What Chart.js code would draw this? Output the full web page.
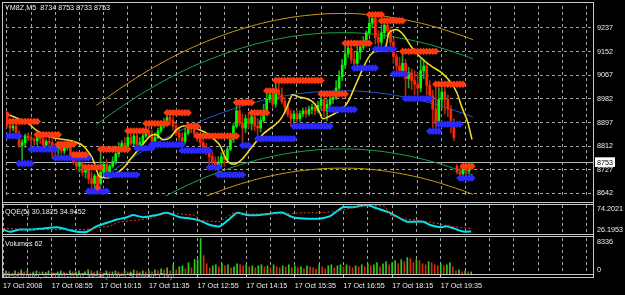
<!DOCTYPE html>
<html>
<head>
<meta charset="utf-8">
<script src="https://cdn.jsdelivr.net/npm/chart.js@4.4.0/dist/chart.umd.min.js"></script>
<style>
  html, body { margin: 0; padding: 0; background: #000; }
  #wrap { position: relative; width: 625px; height: 295px; overflow: hidden; background: #000; }
  #wrap canvas { position: absolute; left: 0; }
  .ln { position: absolute; background: #c8c8c8; }
  .lbl { position: absolute; font: 7.2px 'Liberation Sans', sans-serif; color: #f0f0f0; white-space: nowrap; line-height: 9px; }
</style>
</head>
<body>
<div id="wrap">
  <canvas id="priceChart" width="625" height="202" style="top:0"></canvas>
  <canvas id="qqeChart" width="625" height="33" style="top:203px"></canvas>
  <canvas id="volChart" width="625" height="59" style="top:236px"></canvas>

  <div class="ln" style="left:2px;top:2px;width:591px;height:1px"></div>
  <div class="ln" style="left:2px;top:2px;width:1px;height:276px"></div>
  <div class="ln" style="left:593px;top:2px;width:1px;height:276px"></div>
  <div class="ln" style="left:2px;top:202px;width:591px;height:1px"></div>
  <div class="ln" style="left:2px;top:204px;width:591px;height:1px"></div>
  <div class="ln" style="left:2px;top:234px;width:591px;height:1px"></div>
  <div class="ln" style="left:2px;top:236px;width:591px;height:1px"></div>
  <div class="ln" style="left:2px;top:274px;width:591px;height:1px"></div>
  <div class="ln" style="left:2px;top:277px;width:591px;height:1px"></div>

  <div class="lbl" style="left:5px;top:3px">YM8Z,M5&nbsp;&nbsp;8734 8753 8733 8753</div>
  <div class="lbl" style="left:5px;top:207px">QQE(5) 30.1825 34.9452</div>
  <div class="lbl" style="left:5px;top:239px">Volumes 62</div>
  <div class="lbl" style="left:3px;top:271px;color:#b0b0b0">MetaTrader, © 2001-2007 MetaQuotes Software Corp.</div>
</div>

<script>
// ---- candles (M5, one entry per bar) ----
const opens = [8921,8887,8877,8884,8860,8815,8825,8849,8843,8836,8832,8853,8839,8815,8829,8825,8808,8801,8815,8795,
  8808,8822,8781,8753,8740,8750,8719,8726,8695,8678,8705,8678,8719,8747,8712,8740,8757,8784,8808,8822,
  8801,8843,8822,8849,8815,8825,8849,8867,8853,8829,8843,8867,8884,8897,8915,8904,8884,8860,8843,8829,
  8860,8884,8877,8856,8839,8825,8808,8798,8774,8757,8740,8753,8774,8764,8801,8836,8884,8939,8894,8877,
  8911,8894,8918,8884,8877,8904,8939,8980,8997,8963,9014,8997,8973,8952,8928,8911,8928,8911,8928,8939,
  8928,8945,8952,8939,8959,8980,8939,8963,8980,8987,9021,9062,9103,9144,9165,9124,9110,9151,9168,9192,
  9220,9254,9271,9203,9186,9220,9247,9227,9186,9134,9100,9083,9110,9055,9076,9048,9035,9021,9083,9100,
  9031,8993,8945,8894,8980,9007,8980,8945,8894,8740,8719,8712,8733,8722,8734];
const highs = [8928,8901,8894,8901,8867,8836,8856,8860,8853,8843,8853,8856,8846,8836,8843,8836,8819,8819,8819,8815,
  8825,8825,8781,8764,8760,8757,8736,8733,8719,8712,8712,8801,8757,8764,8747,8774,8801,8825,8832,8843,
  8867,8856,8860,8856,8843,8856,8894,8884,8870,8860,8877,8897,8911,8932,8928,8918,8894,8877,8860,8877,
  8894,8884,8880,8863,8849,8836,8822,8808,8791,8774,8774,8788,8791,8812,8853,8894,8969,8963,8928,8925,
  8932,8932,8925,8911,8918,8963,9011,9007,9004,9048,9041,9021,8987,8966,8942,8939,8942,8939,8949,8952,
  8956,8963,8966,8973,9000,8987,8980,8993,8997,9048,9083,9124,9186,9186,9172,9151,9172,9179,9206,9227,
  9285,9285,9275,9227,9247,9264,9264,9240,9199,9144,9131,9151,9124,9096,9090,9083,9076,9124,9124,9110,
  9048,9014,9035,9021,9021,9021,8997,8959,8911,8747,8733,8740,8740,8743,8753];
const lows = [8880,8849,8867,8853,8808,8750,8808,8832,8801,8815,8815,8822,8808,8808,8808,8767,8770,8774,8784,8784,
  8798,8774,8747,8729,8719,8705,8698,8678,8650,8654,8657,8671,8712,8698,8705,8733,8747,8774,8791,8791,
  8798,8815,8812,8805,8801,8812,8843,8843,8819,8822,8839,8860,8877,8891,8887,8870,8849,8832,8798,8822,
  8853,8860,8843,8829,8815,8798,8781,8736,8747,8726,8709,8733,8740,8757,8795,8825,8877,8884,8815,8860,
  8877,8870,8867,8839,8863,8897,8932,8969,8952,8952,8980,8963,8928,8918,8884,8884,8894,8901,8918,8915,
  8921,8928,8925,8932,8945,8918,8904,8942,8966,8980,9014,9048,9090,9131,9110,9093,9103,9124,9158,9179,
  9210,9240,9179,9162,9172,9199,9206,9168,9110,9072,9072,9072,8983,9021,9014,8997,8987,9007,9055,8997,
  8973,8867,8870,8891,8945,8928,8918,8860,8832,8712,8698,8705,8705,8712,8733];
const closes = [8887,8877,8884,8860,8815,8825,8849,8843,8836,8832,8853,8839,8815,8829,8825,8808,8801,8815,8795,8808,
  8822,8781,8753,8740,8750,8719,8726,8695,8678,8705,8671,8719,8747,8712,8740,8757,8784,8808,8822,8801,
  8843,8822,8849,8815,8825,8849,8867,8853,8829,8843,8867,8884,8897,8915,8904,8884,8860,8843,8829,8860,
  8884,8877,8856,8839,8825,8808,8798,8774,8757,8740,8753,8774,8764,8801,8836,8884,8939,8894,8877,8911,
  8894,8918,8884,8877,8904,8939,8980,8997,8963,9014,8997,8973,8952,8928,8911,8928,8911,8928,8939,8928,
  8945,8952,8939,8959,8980,8939,8963,8980,8987,9021,9062,9103,9144,9165,9124,9110,9151,9168,9192,9220,
  9254,9271,9203,9186,9220,9247,9227,9186,9134,9100,9083,9110,9055,9076,9048,9035,9021,9083,9100,9031,
  8993,8945,8894,8980,9007,8980,8945,8894,8843,8719,8712,8733,8722,8733,8753];
const volumes = [480,710,480,240,710,480,950,480,710,240,480,710,480,480,240,710,
  480,240,480,710,480,240,710,480,480,710,240,480,950,710,480,710,
  480,240,710,480,480,710,480,240,710,480,480,950,710,480,710,480,
  710,480,950,710,1190,950,1430,710,2140,950,1670,1900,1190,2620,1430,3330,
  3330,8336,4280,2380,1430,1900,2140,1670,2380,1900,2140,1430,1670,2380,2140,1900,
  2140,1670,1900,1430,1900,2140,1670,1900,1430,2140,1670,1430,1900,1670,2140,1430,
  1900,1430,1670,1190,1900,1670,1430,1190,2140,1670,1190,1900,2140,1430,1900,2140,
  1670,2140,1900,1430,1900,1670,2140,1670,2380,1900,2140,2620,1670,2380,2860,2140,
  2620,3090,2380,3330,2860,3810,3570,2620,3330,3090,2380,2140,2860,2620,2140,1900,
  2380,1900,2140,2620,1670,710,950,480,710,480,480];

// ---- moving average (bar, value) ----
const maBars = [0,7,10,15,21,25,28,29.5,30.5,33,35,38.5,41,46,47.5,49.5,51.5,54,56,58,60.5,64,66,68,70.5,72.5,74,76,78,81,
  84.5,90,92,94,94.5,96.5,100,102,103.5,104.5,106.5,111,113,115,117.5,119.5,121.5,125,126.5,128,129.5,131.5,134,137,140.5,144,147,149,150.5,152.5,154];
const maValues = [8928,8894,8867,8843,8832,8815,8774,8733,8705,8698,8705,8733,8767,8832,8849,8853,8836,8843,8870,8884,8884,8870,8860,8843,8815,8767,8750,8750,8767,8808,
  8853,8901,8935,8987,8997,8990,8980,8963,8935,8911,8918,8945,8973,9021,9083,9127,9151,9158,9220,9230,9230,9210,9168,9131,9100,9076,9041,9004,8956,8901,8836];

// ---- regression channel ----
const channelBars = [29.6,40,50,60,70,80,90,100,110,120,130,140,150,154.3];
const channelUpper2 = [8959,9038,9104,9160,9205,9241,9267,9283,9289,9285,9270,9246,9212,9195];
const channelUpper1 = [8890,8969,9035,9091,9136,9172,9198,9214,9220,9216,9201,9177,9143,9126];
const channelMid    = [8681,8760,8826,8882,8927,8963,8989,9005,9011,9007,8992,8968,8934,8917];
const channelLower1 = [8472,8551,8617,8673,8718,8754,8780,8796,8802,8798,8783,8759,8725,8708];
const channelLower2 = [8403,8482,8548,8604,8649,8685,8711,8727,8733,8729,8714,8690,8656,8639];

// ---- fractal levels [fromBar, toBar, price] ----
const resistLevels = [[0,0,8925],[1,10,8901],[10,17,8853],[17,22,8819],[22,26,8781],[26,31,8736],[30,30,8664],
  [31,40,8801],[40,46,8867],[46,53,8894],[53,60,8932],[60,63,8884],[63,76,8849],[76,81,8969],[81,86,8932],
  [86,89,9011],[89,104,9048],[104,112,9000],[112,120,9182],[120,124,9285],[124,131,9263],[131,142,9153],
  [142,151,9035],[151,154,8740]];
const supportLevels = [[0,4,8849],[4,8,8750],[8,16,8801],[16,27,8770],[27,33,8650],[33,43,8709],[43,48,8805],
  [48,58,8817],[58,67,8796],[67,70,8736],[70,78,8709],[78,80,8815],[83,95,8839],[95,107,8884],[107,115,8944],
  [115,122,9093],[122,128,9161],[128,132,9072],[132,140,8983],[140,143,8866],[143,150,8891],[150,154,8698]];

// ---- QQE(5) ----
const qqeBars = [0,2.3,5.6,9.9,13.2,17.8,19.7,24.3,27.6,30.9,34.2,37.5,40.8,42.8,46.1,50.7,53.9,58.2,61.5,64.8,68.1,71.4,
  74.7,77,80.3,84.5,90.1,92.1,95.4,98.7,104.3,107.6,111.8,115.1,119.7,123,127.3,130.6,132.9,138.2,140.5,143.8,146,149.3,151.3,154];
const qqeValues = [33.6,29.9,33.6,33.6,35.4,37.3,35.4,29.9,29.9,39.1,44.7,50.2,53.9,57.6,53.9,57.6,61.3,53.9,52.0,48.4,41.0,39.1,
  52.0,61.3,57.6,57.6,61.3,61.3,53.9,52.0,52.0,55.7,70.5,70.5,74.2,68.7,61.3,52.0,46.5,46.5,41.0,37.3,39.1,33.6,30.2,30.2];
const signalBars = [0,9,27,35,38.5,42.8,48.4,51.6,55,58,63,65,71.4,75.7,79.6,94.4,97.7,104,108.6,112.5,119,125.7,127.3,130.6,137.2,143.8,147,154];
const signalValues = [35.4,33.6,33.6,39.1,46.5,48.4,52.0,57.6,61.3,59.4,57.6,48.4,46.5,61.3,59.4,59.4,61.3,61.3,63.1,66.8,74.2,72.3,57.6,52.0,48.4,42.8,39.1,34.9];

// ---- axes ----
const priceTicks = [8642, 8727, 8812, 8897, 8982, 9067, 9152, 9237];
const lastPrice = 8753;
const qqeTicks = [26.1953, 74.2021];
const volumeTicks = [0, 8336];
const gridBars = [0,8,16,24,32,40,48,56,64,72,80,88,96,104,112,120,128,136,144,152,160,168,176,184,192];
const timeLabelBars = [0,16,32,48,64,80,96,112,128,144];
const timeLabels = ['17 Oct 2008','17 Oct 08:55','17 Oct 10:15','17 Oct 11:35','17 Oct 12:55',
  '17 Oct 14:15','17 Oct 15:35','17 Oct 16:55','17 Oct 18:15','17 Oct 19:35'];

const X_MIN = -0.33, X_MAX = 194.07;
const GRID = '#a4a4a4';
const TEXT = '#f0f0f0';
const FONT = { family: "'Liberation Sans', sans-serif", size: 7.2 };
const UP = '#00ff00', DOWN = '#ff2800';
const UP_WICK = '#26a626', DOWN_WICK = '#b02a14';

Chart.defaults.font = FONT;

function pts(xs, ys) { return xs.map((x, i) => ({ x: x, y: ys[i] })); }

function levelPoints(levels) {
  const out = [];
  levels.forEach(([from, to, price]) => {
    for (let b = from; b <= to; b++) out.push({ x: b, y: price });
    out.push({ x: to + 0.5, y: null });
  });
  return out;
}

function noPadding(s) { s.paddingTop = 0; s.paddingBottom = 0; s.paddingLeft = 0; s.paddingRight = 0; }

function timeAxis(showLabels) {
  return {
    type: 'linear', min: X_MIN, max: X_MAX, offset: false,
    afterBuildTicks: s => { s.ticks = gridBars.map(v => ({ value: v })); },
    afterFit: s => { s.height = showLabels ? 21 : 0; noPadding(s); },
    grid: { color: GRID, offset: false, drawTicks: showLabels, tickLength: 4,
            tickColor: ctx => (ctx.tick && timeLabelBars.includes(ctx.tick.value)) ? '#c8c8c8' : 'rgba(0,0,0,0)' },
    border: { display: false, dash: [3, 3] },
    ticks: {
      display: showLabels, autoSkip: false, maxRotation: 0, minRotation: 0,
      align: 'start', padding: 4, color: TEXT, font: FONT,
      callback: v => { const k = timeLabelBars.indexOf(v); return k < 0 ? '' : timeLabels[k]; }
    }
  };
}

function edgeLabels(ticks) {
  // top value drawn just under the panel edge, bottom value just above it
  return v => v === ticks[1] ? ['', String(v)] : [String(v), ''];
}

function baseOptions() {
  return {
    responsive: false,
    animation: false,
    events: [],
    plugins: { legend: { display: false }, tooltip: { enabled: false } }
  };
}

// ---------- price panel ----------
const bodyColor = closes.map((c, i) => c >= opens[i] ? UP : DOWN);
const wickColor = closes.map((c, i) => c >= opens[i] ? UP_WICK : DOWN_WICK);

new Chart(document.getElementById('priceChart'), {
  data: {
    datasets: [
      { type: 'line', data: pts(channelBars, channelUpper2), borderColor: '#c89a1e', borderWidth: 1, pointRadius: 0, tension: 0.4, order: 9 },
      { type: 'line', data: pts(channelBars, channelUpper1), borderColor: '#1fa04a', borderWidth: 1, pointRadius: 0, tension: 0.4, order: 9 },
      { type: 'line', data: pts(channelBars, channelMid),    borderColor: '#2f55c8', borderWidth: 1, pointRadius: 0, tension: 0.4, order: 9 },
      { type: 'line', data: pts(channelBars, channelLower1), borderColor: '#1fa04a', borderWidth: 1, pointRadius: 0, tension: 0.4, order: 9 },
      { type: 'line', data: pts(channelBars, channelLower2), borderColor: '#c89a1e', borderWidth: 1, pointRadius: 0, tension: 0.4, order: 9 },
      { type: 'bar', data: lows.map((l, i) => ({ x: i, y: [l, highs[i]] })), backgroundColor: wickColor,
        barThickness: 1, grouped: false, order: 6 },
      { type: 'bar', data: opens.map((o, i) => ({ x: i, y: [o, closes[i]] })), backgroundColor: bodyColor,
        barThickness: 2, minBarLength: 1, grouped: false, order: 5 },
      { type: 'line', data: pts(maBars, maValues), borderColor: '#ecdc2a', borderWidth: 1.6, pointRadius: 0, tension: 0.3, order: 3 },
      { type: 'line', data: levelPoints(resistLevels), borderColor: '#ff3a10', backgroundColor: '#ff3a10', borderWidth: 2,
        pointStyle: 'rectRot', pointRadius: 2.3, spanGaps: false, order: 2 },
      { type: 'line', data: levelPoints(supportLevels), borderColor: '#2a2aff', backgroundColor: '#2a2aff', borderWidth: 2,
        pointStyle: 'rectRot', pointRadius: 2.3, spanGaps: false, order: 2 }
    ]
  },
  options: Object.assign(baseOptions(), {
    layout: { padding: { left: 2, top: 2, bottom: 1, right: 0 } },
    scales: {
      x: timeAxis(false),
      y: {
        position: 'right', min: 8633, max: 9316,
        afterBuildTicks: s => { s.ticks = priceTicks.concat([lastPrice]).map(v => ({ value: v })); },
        afterFit: s => { s.width = 32; noPadding(s); },
        grid: { drawTicks: false, color: ctx => ctx.tick && ctx.tick.value === lastPrice ? '#b4b4b4' : GRID },
        border: { display: false, dash: ctx => ctx.tick && ctx.tick.value === lastPrice ? [] : [3, 3] },
        ticks: {
          autoSkip: false, padding: 4, font: FONT,
          color: ctx => ctx.tick && ctx.tick.value === lastPrice ? '#000' : TEXT,
          showLabelBackdrop: ctx => !!(ctx.tick && ctx.tick.value === lastPrice),
          backdropColor: '#ffffff', backdropPadding: { top: 1, bottom: 0, left: 2, right: 2 },
          callback: v => String(v)
        }
      }
    }
  })
});

// ---------- QQE panel ----------
new Chart(document.getElementById('qqeChart'), {
  data: {
    datasets: [
      { type: 'line', data: pts(signalBars, signalValues), borderColor: '#e8401c', borderWidth: 1, borderDash: [2, 2],
        pointRadius: 0, tension: 0 },
      { type: 'line', data: pts(qqeBars, qqeValues), borderColor: '#00e4f0', borderWidth: 2, pointRadius: 0, tension: 0.2 }
    ]
  },
  options: Object.assign(baseOptions(), {
    layout: { padding: { left: 2, top: 2, bottom: 2, right: 0 } },
    scales: {
      x: timeAxis(false),
      y: {
        position: 'right', min: qqeTicks[0], max: qqeTicks[1],
        afterBuildTicks: s => { s.ticks = qqeTicks.map(v => ({ value: v })); },
        afterFit: s => { s.width = 32; noPadding(s); },
        grid: { display: false, drawTicks: false },
        border: { display: false },
        ticks: { autoSkip: false, padding: 4, color: TEXT, font: FONT, callback: edgeLabels(qqeTicks) }
      }
    }
  })
});

// ---------- Volumes panel ----------
const volColor = volumes.map((v, i) => i > 0 && v < volumes[i - 1] ? '#d42a10' : '#2ecc1a');

new Chart(document.getElementById('volChart'), {
  data: {
    datasets: [
      { type: 'bar', data: volumes.map((v, i) => ({ x: i, y: v })), backgroundColor: volColor,
        barThickness: 1, grouped: false }
    ]
  },
  options: Object.assign(baseOptions(), {
    layout: { padding: { left: 2, top: 2, bottom: 0, right: 0 } },
    scales: {
      x: timeAxis(true),
      y: {
        position: 'right', min: volumeTicks[0], max: volumeTicks[1],
        afterBuildTicks: s => { s.ticks = volumeTicks.map(v => ({ value: v })); },
        afterFit: s => { s.width = 32; noPadding(s); },
        grid: { display: false, drawTicks: false },
        border: { display: false },
        ticks: { autoSkip: false, padding: 4, color: TEXT, font: FONT, callback: edgeLabels(volumeTicks) }
      }
    }
  })
});
</script>
</body>
</html>
